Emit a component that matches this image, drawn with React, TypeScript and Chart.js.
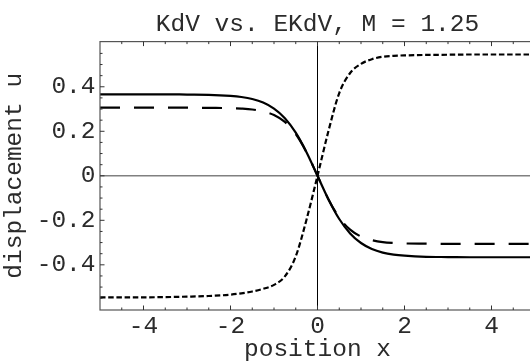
import React, { useEffect, useRef } from 'react';
import { Chart, registerables } from 'chart.js';

Chart.register(...registerables);

const TITLE = 'KdV vs. EKdV, M = 1.25';
const X_TITLE = 'position x';
const Y_TITLE = 'displacement u';

const xs = [-5, -4.5, -4, -3.5, -3, -2.5, -2, -1.75, -1.5, -1.25, -1, -0.75, -0.5, -0.25, 0, 0.25, 0.5, 0.75, 1, 1.25, 1.5, 1.75, 2, 2.5, 3, 3.5, 4, 4.5, 5];

// solid: KdV
const kdv = [0.366, 0.366, 0.366, 0.366, 0.365, 0.364, 0.359, 0.354, 0.345, 0.329, 0.302, 0.259, 0.194, 0.105, 0, -0.105, -0.194, -0.259, -0.302, -0.329, -0.345, -0.354, -0.359, -0.364, -0.365, -0.366, -0.366, -0.366, -0.366];
// long dash: EKdV
const ekdv = [0.306, 0.306, 0.306, 0.306, 0.306, 0.305, 0.304, 0.302, 0.298, 0.289, 0.273, 0.242, 0.188, 0.105, 0, -0.105, -0.188, -0.242, -0.273, -0.289, -0.298, -0.302, -0.304, -0.305, -0.306, -0.306, -0.306, -0.306, -0.306];
// short dash
const third = [-0.546, -0.546, -0.546, -0.545, -0.543, -0.54, -0.534, -0.528, -0.52, -0.508, -0.49, -0.452, -0.362, -0.195, 0, 0.2, 0.372, 0.462, 0.503, 0.524, 0.535, 0.539, 0.541, 0.543, 0.544, 0.545, 0.545, 0.545, 0.545];

const xMajorTicks = [-4, -2, 0, 2, 4];
const xMinorTicks = [-4.5, -3.5, -3, -2.5, -1.5, -1, -0.5, 0.5, 1, 1.5, 2.5, 3, 3.5, 4.5];
const yMajorTicks = [-0.4, -0.2, 0, 0.2, 0.4];
const yMinorTicks = [-0.55, -0.5, -0.45, -0.35, -0.3, -0.25, -0.15, -0.1, -0.05, 0.05, 0.1, 0.15, 0.25, 0.3, 0.35, 0.45, 0.5, 0.55];

const X_MIN = -5;
const X_MAX = 5;
const Y_MIN = -0.603;
const Y_MAX = 0.603;

const FONT = "'Liberation Mono', 'DejaVu Sans Mono', monospace";
const FONT_SIZE = 24.5;
const TEXT_COLOR = '#2b2b2b';

const framePlugin = {
  id: 'mmaFrame',
  beforeDatasetsDraw(chart: any) {
    const { ctx, chartArea: a, scales } = chart;
    const x = scales.x;
    const y = scales.y;
    ctx.save();
    const y0 = y.getPixelForValue(0);
    ctx.strokeStyle = '#808080';
    ctx.lineWidth = 1.4;
    ctx.beginPath();
    ctx.moveTo(a.left, y0);
    ctx.lineTo(a.right, y0);
    ctx.stroke();
    const x0 = x.getPixelForValue(0);
    ctx.strokeStyle = '#000';
    ctx.lineWidth = 1;
    ctx.beginPath();
    ctx.moveTo(x0, a.top);
    ctx.lineTo(x0, a.bottom);
    ctx.stroke();
    ctx.restore();
  },
  afterDatasetsDraw(chart: any) {
    const { ctx, chartArea: a, scales } = chart;
    const x = scales.x;
    const y = scales.y;
    ctx.save();
    ctx.strokeStyle = '#555';
    ctx.lineWidth = 1.2;
    ctx.strokeRect(a.left, a.top, a.right - a.left, a.bottom - a.top);
    ctx.lineWidth = 1;
    ctx.strokeStyle = '#333';
    const drawX = (vals: number[], len: number) => {
      vals.forEach((v) => {
        const p = x.getPixelForValue(v);
        ctx.beginPath();
        ctx.moveTo(p, a.bottom);
        ctx.lineTo(p, a.bottom - len);
        ctx.moveTo(p, a.top);
        ctx.lineTo(p, a.top + len);
        ctx.stroke();
      });
    };
    const drawY = (vals: number[], len: number) => {
      vals.forEach((v) => {
        const p = y.getPixelForValue(v);
        ctx.beginPath();
        ctx.moveTo(a.left, p);
        ctx.lineTo(a.left + len, p);
        ctx.moveTo(a.right, p);
        ctx.lineTo(a.right - len, p);
        ctx.stroke();
      });
    };
    drawX(xMajorTicks, 4.5);
    drawX(xMinorTicks, 2.5);
    drawY(yMajorTicks, 4.5);
    drawY(yMinorTicks, 2.5);
    // title
    ctx.fillStyle = TEXT_COLOR;
    ctx.font = `${FONT_SIZE}px ${FONT}`;
    ctx.textAlign = 'center';
    ctx.textBaseline = 'alphabetic';
    ctx.fillText(TITLE, (a.left + a.right) / 2, 31);
    ctx.restore();
  },
};

export default function App() {
  const ref = useRef<HTMLCanvasElement | null>(null);
  useEffect(() => {
    if (!ref.current) return;
    const mk = (vals: number[]) => xs.map((xv, i) => ({ x: xv, y: vals[i] }));
    const chart = new Chart(ref.current, {
      type: 'line',
      data: {
        datasets: [
          { label: 'KdV', data: mk(kdv), borderColor: '#000', borderWidth: 2.2, pointRadius: 0, cubicInterpolationMode: 'monotone', fill: false },
          { label: 'EKdV', data: mk(ekdv), borderColor: '#000', borderWidth: 2.2, borderDash: [20, 14], borderCapStyle: 'butt', pointRadius: 0, cubicInterpolationMode: 'monotone', fill: false },
          { label: 'third', data: mk(third), borderColor: '#000', borderWidth: 2.2, borderDash: [5.5, 2.7], borderCapStyle: 'butt', pointRadius: 0, cubicInterpolationMode: 'monotone', fill: false },
        ],
      },
      options: {
        responsive: false,
        animation: false,
        events: [],
        layout: { padding: { top: 41.6, right: 10, bottom: 0, left: 0 } },
        plugins: { legend: { display: false }, title: { display: false }, tooltip: { enabled: false } },
        scales: {
          x: {
            type: 'linear',
            min: X_MIN,
            max: X_MAX,
            grid: { display: false, drawTicks: false },
            border: { display: false },
            afterBuildTicks: (s: any) => { s.ticks = xMajorTicks.map((v) => ({ value: v })); },
            afterFit: (s: any) => { s.height = 52; },
            ticks: {
              autoSkip: false,
              maxRotation: 0,
              padding: 2,
              color: TEXT_COLOR,
              font: { family: FONT, size: FONT_SIZE, lineHeight: 1.2 },
              callback: (v: any) => String(v),
            },
            title: {
              display: true,
              text: X_TITLE,
              color: TEXT_COLOR,
              font: { family: FONT, size: FONT_SIZE, lineHeight: 1 },
              padding: { top: 0, bottom: 0 },
            },
          },
          y: {
            type: 'linear',
            min: Y_MIN,
            max: Y_MAX,
            grid: { display: false, drawTicks: false },
            border: { display: false },
            afterBuildTicks: (s: any) => { s.ticks = yMajorTicks.map((v) => ({ value: v })); },
            afterFit: (s: any) => { s.width = 100; },
            ticks: {
              autoSkip: false,
              padding: 4.5,
              color: TEXT_COLOR,
              font: { family: FONT, size: FONT_SIZE, lineHeight: 1.2 },
              callback: (v: any) => (Math.abs(v) < 1e-9 ? '0' : Number(v).toFixed(1)),
            },
            title: {
              display: true,
              text: Y_TITLE,
              color: TEXT_COLOR,
              font: { family: FONT, size: FONT_SIZE, lineHeight: 1 },
              padding: { top: 2.3, bottom: 0 },
            },
          },
        },
      },
      plugins: [framePlugin],
    } as any);
    return () => chart.destroy();
  }, []);
  return (
    <div style={{ position: 'fixed', left: 0, top: 0, width: 530, height: 362, overflow: 'hidden', background: '#fff' }}>
      <canvas ref={ref} width={545} height={362} style={{ display: 'block' }} />
    </div>
  );
}
